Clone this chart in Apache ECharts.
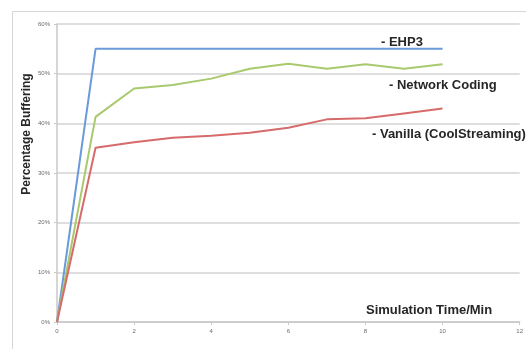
<!DOCTYPE html>
<html>
<head>
<meta charset="utf-8">
<script src="https://cdn.jsdelivr.net/npm/echarts@6/dist/echarts.min.js"></script>
<style>
  html, body { margin: 0; padding: 0; background: #fff; }
  #chart { width: 526px; height: 349px; }
</style>
</head>
<body>
<div id="chart"></div>
<script>
// Simulation time (minutes) and percentage of buffering per scheme
const times = [0, 1, 2, 3, 4, 5, 6, 7, 8, 9, 10];
const ehp3 = [0, 55, 55, 55, 55, 55, 55, 55, 55, 55, 55];
const networkCoding = [0, 41.3, 47, 47.7, 49, 51, 52, 51, 51.9, 51, 51.9];
const vanilla = [0, 35.1, 36.2, 37.1, 37.5, 38.1, 39.1, 40.8, 41, 42, 43];

const seriesNames = ['- EHP3', '- Network Coding', '- Vanilla (CoolStreaming)'];
const xTitle = 'Simulation Time/Min';
const yTitle = 'Percentage Buffering';

const pairs = (vals) => times.map((t, i) => [t, vals[i]]);

const chart = echarts.init(document.getElementById('chart'), null, { renderer: 'canvas' });

const labelFont = { fontFamily: 'Liberation Sans', fontWeight: 'bold', fontSize: 13, fill: '#262626', verticalAlign: 'middle' };

chart.setOption({
  animation: false,
  grid: { left: 57, top: 24, right: 3, bottom: 27 },
  xAxis: {
    type: 'value', min: 0, max: 12, interval: 2,
    axisLine: { lineStyle: { color: '#c8c8c8', width: 1.5 } },
    axisTick: { show: true, length: 3, lineStyle: { color: '#c8c8c8' } },
    axisLabel: { color: '#6b6b6b', fontSize: 6, margin: 6, fontFamily: 'Liberation Sans' },
    splitLine: { show: false }
  },
  yAxis: {
    type: 'value', min: 0, max: 60, interval: 10,
    axisLine: { show: true, lineStyle: { color: '#c8c8c8', width: 1.5 } },
    axisTick: { show: true, length: 3, lineStyle: { color: '#c8c8c8' } },
    axisLabel: { color: '#6b6b6b', fontSize: 6, margin: 7, formatter: '{value}%', fontFamily: 'Liberation Sans' },
    splitLine: { lineStyle: { color: '#d3d3d3', width: 1.5 } }
  },
  series: [
    { name: seriesNames[0], type: 'line', data: pairs(ehp3), showSymbol: false,
      lineStyle: { color: '#6a9ad8', width: 2 } },
    { name: seriesNames[1], type: 'line', data: pairs(networkCoding), showSymbol: false,
      lineStyle: { color: '#a8c96e', width: 2 } },
    { name: seriesNames[2], type: 'line', data: pairs(vanilla), showSymbol: false,
      lineStyle: { color: '#d76a6a', width: 2 } }
  ],
  graphic: [
    { type: 'rect', shape: { x: 12.5, y: 11.5, width: 540, height: 360 },
      style: { fill: 'none', stroke: '#d6d6d6', lineWidth: 1 }, silent: true },
    { type: 'text', x: 381, y: 42, style: Object.assign({}, labelFont, { text: seriesNames[0] }) },
    { type: 'text', x: 389, y: 85, style: Object.assign({}, labelFont, { text: seriesNames[1] }) },
    { type: 'text', x: 372, y: 134, style: Object.assign({}, labelFont, { text: seriesNames[2] }) },
    { type: 'text', x: 366, y: 310, style: Object.assign({}, labelFont, { text: xTitle }) },
    { type: 'text', x: 27, y: 134, rotation: Math.PI / 2,
      style: Object.assign({}, labelFont, { text: yTitle, align: 'center', fontSize: 12 }) }
  ]
});
</script>
</body>
</html>
